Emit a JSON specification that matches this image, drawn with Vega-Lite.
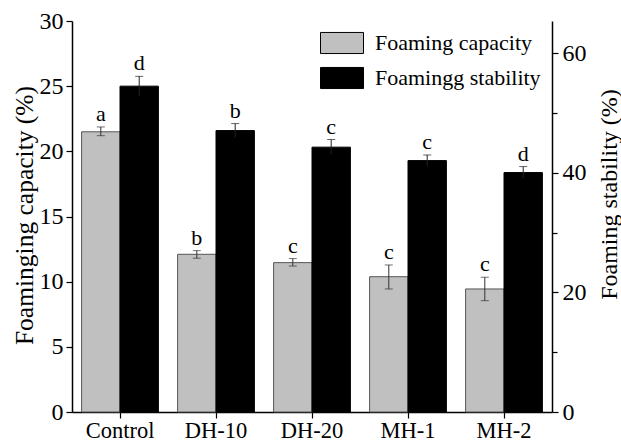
{
  "$schema": "https://vega.github.io/schema/vega-lite/v6.json",
  "width": 480,
  "height": 391,
  "autosize": {"type": "none"},
  "padding": {"left": 72, "top": 21, "right": 69, "bottom": 29},
  "config": {
    "view": {"stroke": null},
    "font": "Liberation Serif",
    "axis": {"domainColor": "#000", "domainWidth": 1.5, "tickColor": "#000", "tickWidth": 1.2, "labelColor": "#000", "titleColor": "#000", "labelFont": "Liberation Serif", "titleFont": "Liberation Serif", "titleFontWeight": "normal", "grid": false}
  },
  "data": {
    "values": [
      {"sample": "Control", "series": "Foaming capacity", "value": 21.5, "lo": 21.2, "hi": 21.87, "letter": "a"},
      {"sample": "DH-10", "series": "Foaming capacity", "value": 12.1, "lo": 11.8, "hi": 12.38, "letter": "b"},
      {"sample": "DH-20", "series": "Foaming capacity", "value": 11.46, "lo": 11.2, "hi": 11.77, "letter": "c"},
      {"sample": "MH-1", "series": "Foaming capacity", "value": 10.38, "lo": 9.44, "hi": 11.28, "letter": "c"},
      {"sample": "MH-2", "series": "Foaming capacity", "value": 9.44, "lo": 8.54, "hi": 10.34, "letter": "c"},
      {"sample": "Control", "series": "Foamingg stability", "value": 54.5, "lo": 52.9, "hi": 56.14, "letter": "d"},
      {"sample": "DH-10", "series": "Foamingg stability", "value": 47.07, "lo": 45.9, "hi": 48.24, "letter": "b"},
      {"sample": "DH-20", "series": "Foamingg stability", "value": 44.3, "lo": 43.07, "hi": 45.56, "letter": "c"},
      {"sample": "MH-1", "series": "Foamingg stability", "value": 42.05, "lo": 41.1, "hi": 42.99, "letter": "c"},
      {"sample": "MH-2", "series": "Foamingg stability", "value": 40.05, "lo": 39.05, "hi": 41.05, "letter": "d"}
    ]
  },
  "encoding": {
    "x": {
      "field": "sample", "type": "nominal",
      "sort": ["Control", "DH-10", "DH-20", "MH-1", "MH-2"],
      "scale": {"paddingInner": 0.2, "paddingOuter": 0.1},
      "axis": {"title": null, "labelAngle": 0, "labelFontSize": 22.5, "tickSize": 6, "labelPadding": 1}
    },
    "xOffset": {
      "field": "series", "type": "nominal",
      "scale": {"domain": ["Foaming capacity", "Foamingg stability"], "paddingInner": 0, "paddingOuter": 0}
    }
  },
  "layer": [
    {
      "transform": [{"filter": "datum.series === 'Foaming capacity'"}],
      "layer": [
        {
          "mark": {"type": "bar", "stroke": "#555", "strokeWidth": 1},
          "encoding": {
            "y": {
              "field": "value", "type": "quantitative",
              "scale": {"domain": [0, 30], "nice": false, "zero": true},
              "axis": {
                "orient": "left", "title": "Foaminging capacity (%)", "titleFontSize": 25.5,
                "titleAngle": 270, "titleX": -48, "titleY": 194, "titleAlign": "center", "titleBaseline": "middle",
                "values": [0, 2.5, 5, 7.5, 10, 12.5, 15, 17.5, 20, 22.5, 25, 27.5, 30],
                "labelExpr": "datum.value % 5 === 0 ? format(datum.value, 'd') : ''",
                "labelFontSize": 24, "labelPadding": 3,
                "tickSize": {"condition": {"test": "datum.value % 5 === 0", "value": 6}, "value": 5}
              }
            },
            "color": {
              "field": "series", "type": "nominal",
              "scale": {"domain": ["Foaming capacity", "Foamingg stability"], "range": ["#c0c0c0", "#000000"]},
              "legend": {
                "title": null, "orient": "none", "legendX": 248, "legendY": 0,
                "symbolType": "M-1,-0.49H1V0.49H-1Z", "symbolSize": 1849,
                "symbolStrokeColor": "#444", "symbolStrokeWidth": 1, "symbolOpacity": 1,
                "labelFontSize": 22, "labelFont": "Liberation Serif", "labelColor": "#000", "labelOffset": 11,
                "rowPadding": -12, "labelLimit": 300
              }
            }
          }
        },
        {
          "mark": {"type": "rule", "color": "#333", "strokeWidth": 1},
          "encoding": {
            "y": {"field": "lo", "type": "quantitative"},
            "y2": {"field": "hi"}
          }
        },
        {
          "mark": {"type": "tick", "color": "#333", "thickness": 1, "size": 8},
          "encoding": {"y": {"field": "lo", "type": "quantitative"}}
        },
        {
          "mark": {"type": "tick", "color": "#333", "thickness": 1, "size": 8},
          "encoding": {"y": {"field": "hi", "type": "quantitative"}}
        },
        {
          "mark": {"type": "text", "fontSize": 22, "dy": -6, "baseline": "alphabetic", "color": "#000", "font": "Liberation Serif"},
          "encoding": {
            "y": {"field": "hi", "type": "quantitative"},
            "text": {"field": "letter"}
          }
        }
      ]
    },
    {
      "transform": [{"filter": "datum.series === 'Foamingg stability'"}],
      "layer": [
        {
          "mark": {"type": "bar", "stroke": "#000", "strokeWidth": 1},
          "encoding": {
            "y": {
              "field": "value", "type": "quantitative",
              "scale": {"domain": [0, 65.4], "nice": false, "zero": true},
              "axis": {
                "orient": "right", "title": "Foaming stability (%)", "titleFontSize": 24,
                "titleAngle": 270, "titleX": 57, "titleY": 173, "titleAlign": "center", "titleBaseline": "middle",
                "values": [0, 10, 20, 30, 40, 50, 60],
                "labelExpr": "datum.value % 20 === 0 ? format(datum.value, 'd') : ''",
                "labelFontSize": 24, "labelPadding": 4,
                "tickSize": {"condition": {"test": "datum.value % 20 === 0", "value": 6}, "value": 5}
              }
            },
            "color": {"field": "series", "type": "nominal"}
          }
        },
        {
          "mark": {"type": "rule", "color": "#222", "strokeWidth": 1},
          "encoding": {
            "y": {"field": "lo", "type": "quantitative"},
            "y2": {"field": "hi"}
          }
        },
        {
          "mark": {"type": "tick", "color": "#222", "thickness": 1, "size": 8},
          "encoding": {"y": {"field": "hi", "type": "quantitative"}}
        },
        {
          "mark": {"type": "text", "fontSize": 22, "dy": -6, "baseline": "alphabetic", "color": "#000", "font": "Liberation Serif"},
          "encoding": {
            "y": {"field": "hi", "type": "quantitative"},
            "text": {"field": "letter"}
          }
        }
      ]
    }
  ],
  "resolve": {"scale": {"y": "independent"}}
}
